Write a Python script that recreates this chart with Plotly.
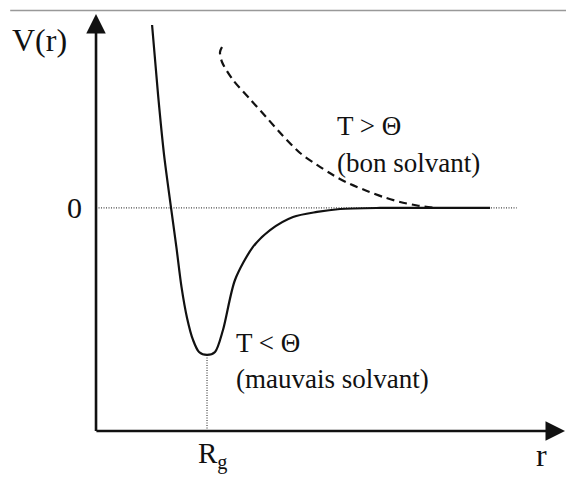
import plotly.graph_objects as go

# r in units of Rg, V in units of the well depth
r_bad = [0.505, 0.559, 0.613, 0.676, 0.725, 0.770, 0.820, 0.874, 0.928, 1.0, 1.072, 1.144,
         1.252, 1.414, 1.568, 1.775, 1.991, 2.198, 2.559, 3.55]
v_bad = [1.245, 0.769, 0.361, 0.0, -0.272, -0.537, -0.748, -0.898, -0.98, -1.0, -0.98, -0.83,
         -0.49, -0.265, -0.15, -0.061, -0.027, -0.007, 0.0, 0.0]

r_good = [1.135, 1.117, 1.135, 1.234, 1.387, 1.532, 1.685, 1.838, 1.991, 2.135, 2.288, 2.441,
          2.586, 2.739, 2.892, 3.054]
v_good = [1.095, 1.061, 0.993, 0.871, 0.741, 0.619, 0.49, 0.374, 0.293, 0.224, 0.163, 0.116,
          0.075, 0.041, 0.017, 0.0]

zero_r = [0.0, 3.79]
zero_v = [0.0, 0.0]
rg_r = [1.0, 1.0]
rg_v = [-1.0, -1.517]

x_range = [-0.865, 4.234]
y_range = [-1.844, 1.415]
v_axis = -1.517
r_tip = 4.225
v_tip = 1.32

serif = "Liberation Serif, Times New Roman, serif"
ink = "#111111"

fig = go.Figure()
fig.add_trace(go.Scatter(x=zero_r, y=zero_v, mode="lines",
                         line=dict(color="#444444", width=1.2, dash="1px,1.5px")))
fig.add_trace(go.Scatter(x=rg_r, y=rg_v, mode="lines",
                         line=dict(color="#444444", width=1.2, dash="1px,1.5px")))
fig.add_trace(go.Scatter(x=r_bad, y=v_bad, mode="lines",
                         line=dict(color=ink, width=2.2, shape="spline", smoothing=0.8)))
fig.add_trace(go.Scatter(x=r_good, y=v_good, mode="lines",
                         line=dict(color=ink, width=2.2, dash="8px,5px", shape="spline", smoothing=0.8)))

# axes drawn as arrows
arrow = dict(showarrow=True, arrowhead=2, arrowsize=1.5, arrowwidth=2.6, arrowcolor=ink,
             axref="x", ayref="y", text="", standoff=0)
fig.add_annotation(x=0, y=v_tip, ax=0, ay=v_axis - 0.01, **arrow)
fig.add_annotation(x=r_tip, y=v_axis, ax=-0.01, ay=v_axis, **arrow)

labels = [
    ("V(r)", -0.775, 1.143, "left", 32),
    ("0", -0.19, 0.0, "center", 30),
    ("R<sub>g</sub>", 1.05, -1.687, "center", 29),
    ("r", 4.01, -1.68, "center", 32),
    ("T > Θ", 2.15, 0.558, "left", 27),
    ("(bon solvant)", 2.15, 0.306, "left", 27),
    ("T < Θ", 1.24, -0.918, "left", 27),
    ("(mauvais solvant)", 1.24, -1.163, "left", 27),
]
for txt, x, y, anchor, size in labels:
    fig.add_annotation(x=x, y=y, text=txt, showarrow=False, xanchor=anchor, yanchor="middle",
                       font=dict(family=serif, size=size, color=ink))

# thin rule at the top of the scanned page
fig.add_shape(type="line", xref="paper", yref="y", x0=0.018, x1=1, y0=1.343, y1=1.343,
              line=dict(color="#999999", width=1.5))

fig.update_layout(width=566, height=479, margin=dict(l=0, r=0, t=0, b=0),
                  paper_bgcolor="white", plot_bgcolor="white", showlegend=False,
                  xaxis=dict(range=x_range, visible=False, fixedrange=True),
                  yaxis=dict(range=y_range, visible=False, fixedrange=True))
fig.write_html("out.html", config={"displayModeBar": False},
               post_script="document.body.style.margin='0';")
